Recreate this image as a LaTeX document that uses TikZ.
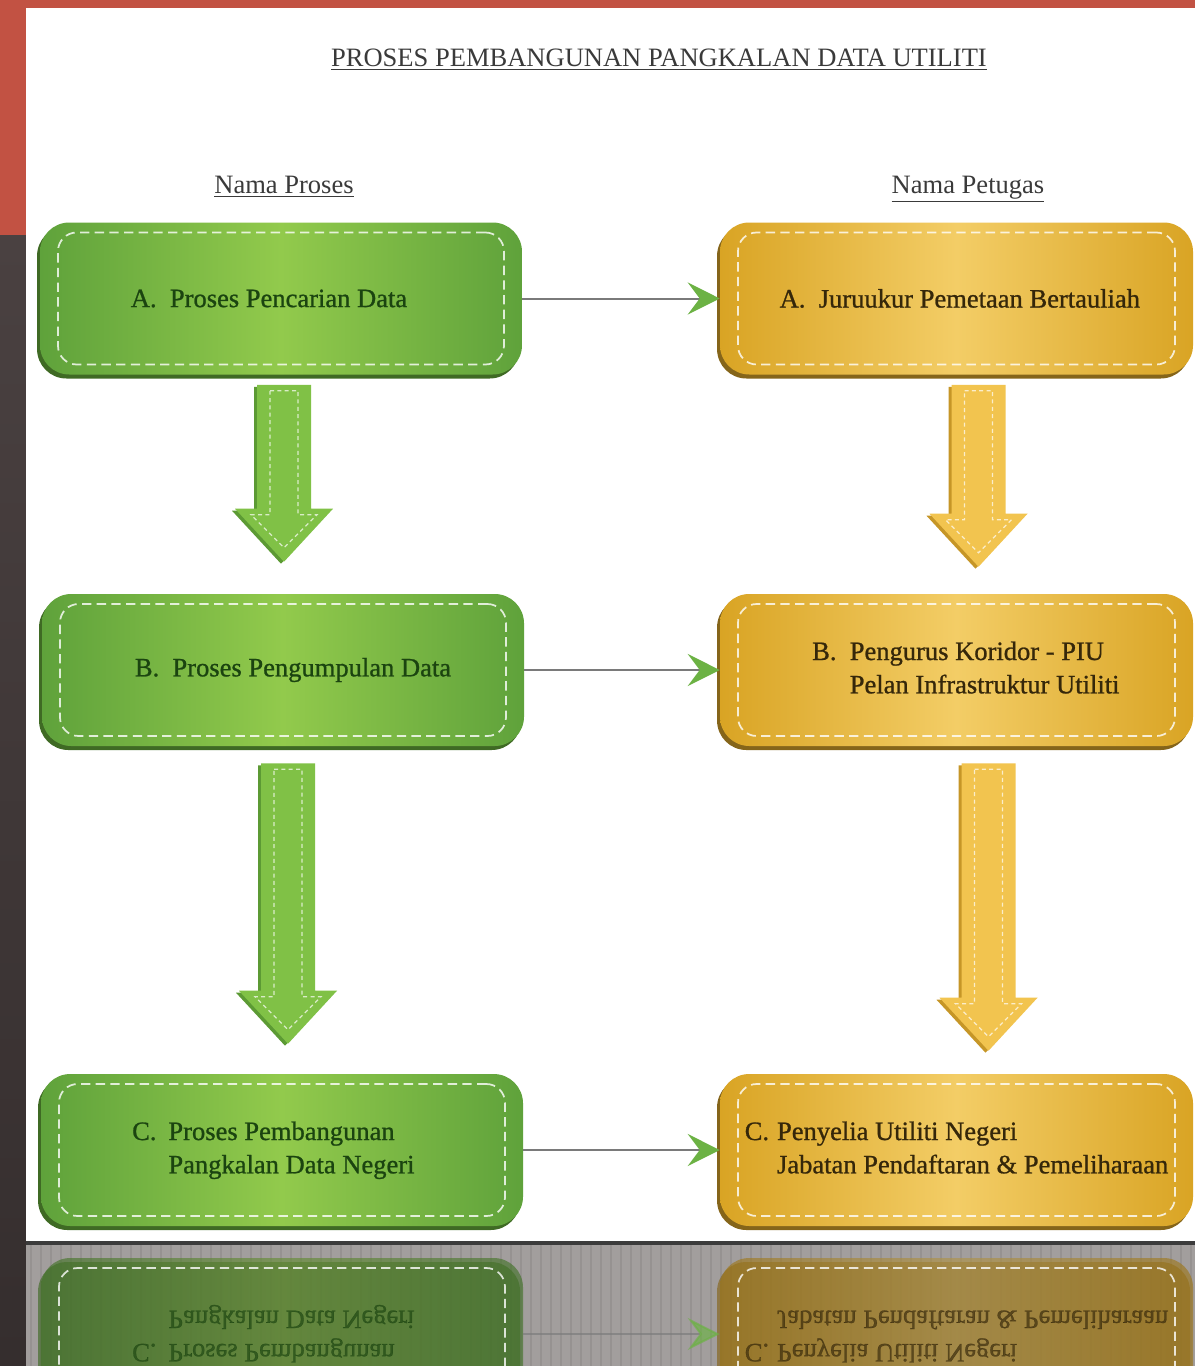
\documentclass[tikz,border=0pt]{standalone}
\usepackage{fontspec}
\setmainfont{Liberation Serif}
\usetikzlibrary{shadows,arrows.meta,calc}

\definecolor{bgred}{HTML}{C25243}
\definecolor{bgdark}{HTML}{4A4141}
\definecolor{bgdarkB}{HTML}{352E2E}
\definecolor{reflgray}{HTML}{A29E9D}
\definecolor{sepline}{HTML}{3B3B3B}
\definecolor{gEdge}{HTML}{5FA23B}
\definecolor{gMid}{HTML}{92CA4C}
\definecolor{gShadow}{HTML}{3F6A24}
\definecolor{gText}{HTML}{1B4410}
\definecolor{yEdge}{HTML}{D9A424}
\definecolor{yMid}{HTML}{F3CD66}
\definecolor{yShadow}{HTML}{85651A}
\definecolor{yText}{HTML}{35270A}
\definecolor{gArrow}{HTML}{80C146}
\definecolor{gArrowD}{HTML}{5C9A34}
\definecolor{yArrow}{HTML}{F2C44F}
\definecolor{yArrowD}{HTML}{C69627}
\definecolor{lineGray}{HTML}{7A7A7A}
\definecolor{tipGreen}{HTML}{6CB244}
\definecolor{titleGray}{HTML}{3A3A3A}

\newcommand\bfont{\fontsize{19.9}{25}\selectfont}
\newcommand\boxfont{\fontsize{19.9}{25}\selectfont\addfontfeature{FakeBold=0.9}}
\def\shop{1}

\tikzset{
  gbox/.style={rounded corners=22pt, left color=gEdge, right color=gEdge, middle color=gMid,
    text=gText, font=\boxfont, align=left, inner sep=0pt,
    drop shadow={shadow xshift=-2.2pt, shadow yshift=-3pt, fill=gShadow, opacity=\shop}},
  ybox/.style={rounded corners=22pt, left color=yEdge, right color=yEdge, middle color=yMid,
    text=yText, font=\boxfont, align=left, inner sep=0pt,
    drop shadow={shadow xshift=-2.2pt, shadow yshift=-3pt, fill=yShadow, opacity=\shop}},
  innerdash/.style={draw=white, draw opacity=0.8, dash pattern=on 7pt off 4pt,
    line width=1.3pt, rounded corners=14pt, inner sep=0pt},
  conn/.style={draw=lineGray, line width=1.5pt,
    -{Stealth[length=24pt,width=24pt,inset=9pt,color=tipGreen]}},
  arrowdash/.style={draw=white, draw opacity=0.7, line width=0.9pt, dash pattern=on 3pt off 2.5pt},
  hdr/.style={font=\bfont, text=titleGray, inner sep=0pt, anchor=base},
}

% box: style, name, position, width, height, text
\newcommand\flowbox[6]{%
  \node[#1, minimum width=#4, minimum height=#5] (#2) at #3 {#6};
  \node[innerdash, minimum width=#4-27pt, minimum height=#5-15pt] (#2d) at (#2.center) {};
}

% block arrow outline: start, end, dx, dy
\newcommand\arrowpath[4]{%
  ($(#1)+(-27+#3,#4)$) -- ($(#1)+(27+#3,#4)$) -- ($(#1|-#2)+(27+#3,-53+#4)$)
  -- ($(#1|-#2)+(49+#3,-53+#4)$) -- ($(#1|-#2)+(#3,#4)$)
  -- ($(#1|-#2)+(-49+#3,-53+#4)$) -- ($(#1|-#2)+(-27+#3,-53+#4)$) -- cycle}
\newcommand\blockarrow[4]{%
  \fill[#2] \arrowpath{#3}{#4}{-3}{2};
  \fill[#1] \arrowpath{#3}{#4}{0}{0};
  \draw[arrowdash] ($(#3)+(-14,6)$) -- ($(#3)+(14,6)$) -- ($(#3|-#4)+(14,-47)$)
    -- ($(#3|-#4)+(33,-47)$) -- ($(#3|-#4)+(0,-14)$) -- ($(#3|-#4)+(-33,-47)$)
    -- ($(#3|-#4)+(-14,-47)$) -- cycle;
}

\newcommand\rowC[1]{%
  \flowbox{gbox}{#1gC}{(282,1150)}{361.5pt}{114pt}{%
    \begin{tabular}{@{}l@{\hspace{0.45em}}l@{\hspace{13pt}}}C. & Proses Pembangunan\\ & Pangkalan Data Negeri\end{tabular}}
  \flowbox{ybox}{#1yC}{(956.5,1150)}{354.75pt}{114pt}{%
    \begin{tabular}{@{}l@{\hspace{0.3em}}l@{}}C. & Penyelia Utiliti Negeri\\ & Jabatan Pendaftaran \& Pemeliharaan\end{tabular}}
  \draw[conn] (#1gC.east) -- (#1yC.west);
}

\begin{document}
\begin{tikzpicture}[x=0.75pt,y=-0.75pt]
\useasboundingbox (0,0) rectangle (1195,1366);
% background
\fill[bgdark] (0,0) rectangle (1195,1366);
\shade[top color=bgdark, bottom color=bgdarkB] (0,235) rectangle (26,1366);
\fill[bgred] (0,0) rectangle (1195,235);
\fill[white] (26,8) rectangle (1195,1242);
\fill[reflgray] (26,1245) rectangle (1195,1366);
\foreach \sx in {31,41,...,1191} \draw[black, opacity=0.07, line width=1.2pt] (\sx,1245) -- (\sx,1366);
\fill[sepline] (26,1241) rectangle (1195,1245);

% headers
\node[hdr] (title) at (659,67) {\underline{PROSES PEMBANGUNAN PANGKALAN DATA UTILITI}};
\node[hdr] (hproc) at (284,194) {\underline{Nama Proses}};
\node[hdr] (hpet) at (968,194) {\underline{Nama Petugas}};

% boxes
\flowbox{gbox}{gA}{(281,298.5)}{361.5pt}{114pt}{A.\hspace{0.5em}Proses Pencarian Data\hspace*{18pt}}
\flowbox{gbox}{gB}{(283,670)}{361.5pt}{114pt}{\hspace*{15pt}B.\hspace{0.5em}Proses Pengumpulan Data}
\flowbox{ybox}{yA}{(956.5,298.5)}{354.75pt}{114pt}{\hspace*{5pt}A.\hspace{0.5em}Juruukur Pemetaan Bertauliah}
\flowbox{ybox}{yB}{(956.5,670)}{354.75pt}{114pt}{%
  \begin{tabular}{@{\hspace{14pt}}l@{\hspace{0.5em}}l@{}}B. & Pengurus Koridor - PIU\\ & Pelan Infrastruktur Utiliti\end{tabular}}
\rowC{}

% horizontal connectors
\draw[conn] (gA.east) -- (yA.west);
\draw[conn] (gB.east) -- (yB.west);

% block arrows
\coordinate (ga1s) at ($(gA.south)+(3,10)$);
\coordinate (ga1e) at ($(gB.north)+(0,-32)$);
\coordinate (ga2s) at ($(gB.south)+(5,17)$);
\coordinate (ga2e) at ($(gC.north)+(0,-30)$);
\coordinate (ya1s) at ($(yA.south)+(22,10)$);
\coordinate (ya1e) at ($(yB.north)+(0,-27)$);
\coordinate (ya2s) at ($(yB.south)+(32,17)$);
\coordinate (ya2e) at ($(yC.north)+(0,-23)$);
\blockarrow{gArrow}{gArrowD}{ga1s}{ga1e}
\blockarrow{gArrow}{gArrowD}{ga2s}{ga2e}
\blockarrow{yArrow}{yArrowD}{ya1s}{ya1e}
\blockarrow{yArrow}{yArrowD}{ya2s}{ya2e}

% reflection
\begin{scope}
  \clip (26,1245) rectangle (1195,1366);
  \begin{scope}[cm={1,0,0,-1,(0,2484)}, transform shape, opacity=0.65]
    \def\shop{0.65}
    \colorlet{gEdge}{gEdge!70!black}
    \colorlet{gMid}{gMid!70!black}
    \colorlet{yEdge}{yEdge!72!black}
    \colorlet{yMid}{yMid!72!black}
    \rowC{r}
  \end{scope}
\end{scope}
\end{tikzpicture}
\end{document}
